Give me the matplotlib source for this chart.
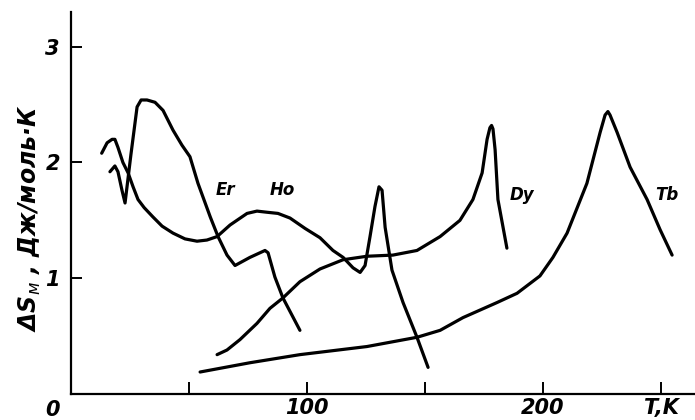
import matplotlib
matplotlib.use("Agg")
import matplotlib.pyplot as plt

# magnetic entropy change vs temperature
er_t = [16.5, 18.6, 19.9, 21.6, 22.9, 25.4, 28.0, 29.7, 32.2, 35.6, 39.0, 43.2, 47.0, 50.4,
        53.8, 59.0, 62.3, 66.1, 69.5, 75.8, 82.2, 83.5, 86.4, 89.8, 97.0]
er_s = [1.92, 1.97, 1.92, 1.76, 1.65, 2.07, 2.48, 2.54, 2.54, 2.52, 2.45, 2.28, 2.15, 2.05,
        1.82, 1.53, 1.36, 1.20, 1.11, 1.18, 1.24, 1.22, 1.01, 0.83, 0.55]

ho_t = [13.0, 15.3, 17.4, 18.6, 19.9, 22.0, 24.2, 26.3, 28.4, 31.0, 34.7, 38.6, 43.2, 48.3,
        53.4, 57.6, 61.9, 67.4, 74.6, 78.8, 83.1, 87.7, 92.8, 99.2, 105.5, 111.0, 115.3,
        119.5, 122.5, 124.6, 126.7, 128.8, 130.5, 131.8, 133.1, 136.0, 140.7, 146.6, 151.3]
ho_s = [2.08, 2.17, 2.20, 2.20, 2.13, 2.00, 1.91, 1.79, 1.68, 1.61, 1.53, 1.45, 1.39, 1.34,
        1.32, 1.33, 1.36, 1.46, 1.56, 1.58, 1.57, 1.56, 1.52, 1.43, 1.35, 1.24, 1.18,
        1.09, 1.05, 1.11, 1.36, 1.62, 1.79, 1.76, 1.44, 1.07, 0.79, 0.49, 0.23]

dy_t = [61.9, 66.1, 71.6, 78.8, 84.3, 89.8, 97.0, 105.5, 115.3, 125.4, 136.4, 146.6, 156.4,
        164.8, 170.3, 174.2, 176.3, 177.5, 178.2, 178.8, 179.7, 180.9, 184.7]
dy_s = [0.34, 0.38, 0.47, 0.61, 0.74, 0.83, 0.97, 1.08, 1.16, 1.19, 1.20, 1.24, 1.36,
        1.50, 1.68, 1.91, 2.20, 2.30, 2.32, 2.29, 2.11, 1.68, 1.26]

tb_t = [54.7, 75.8, 97.0, 125.4, 146.6, 156.4, 166.1, 180.5, 189.0, 198.7, 204.2, 210.2,
        218.6, 224.2, 226.3, 227.5, 228.4, 231.4, 236.9, 244.1, 249.6, 254.7]
tb_s = [0.19, 0.27, 0.34, 0.41, 0.49, 0.55, 0.66, 0.79, 0.87, 1.02, 1.18, 1.39,
        1.82, 2.26, 2.41, 2.44, 2.41, 2.26, 1.96, 1.68, 1.42, 1.20]

labels = ["Er", "Ho", "Dy", "Tb"]
label_pos = [(65.3, 1.76), (89.4, 1.76), (191.0, 1.72), (252.5, 1.72)]

x_ticks = [50, 100, 150, 200, 250]
x_ticklabels = ["", "100", "", "200", "T,K"]
y_ticks = [1, 2, 3]

fig = plt.figure(figsize=(6.95, 4.2), dpi=100)
ax = fig.add_axes([71 / 695, 26 / 420, 624 / 695, 382 / 420])
ax.set_xlim(0, 264.4)
ax.set_ylim(0, 3.30)

font = dict(family="DejaVu Sans", style="italic", weight="bold")

for t, s in [(er_t, er_s), (ho_t, ho_s), (dy_t, dy_s), (tb_t, tb_s)]:
    ax.plot(t, s, color="black", lw=2.3, solid_joinstyle="round", solid_capstyle="round")

for name, (x, y) in zip(labels, label_pos):
    ax.text(x, y, name, ha="center", va="center", fontsize=12, **font)

for side in ["top", "right"]:
    ax.spines[side].set_visible(False)
for side in ["left", "bottom"]:
    ax.spines[side].set_linewidth(1.6)

ax.set_xticks(x_ticks)
ax.set_xticklabels(x_ticklabels, fontsize=15, **font)
ax.set_yticks(y_ticks)
ax.set_yticklabels([str(v) for v in y_ticks], fontsize=15, **font)
ax.tick_params(axis="x", direction="in", length=9, width=1.4, pad=3)
ax.tick_params(axis="y", direction="in", length=8, width=1.4, pad=8)

fig.text(52 / 695, 1 - 410 / 420, "0", ha="center", va="center", fontsize=15, **font)
fig.text(30 / 695, 1 - 218 / 420, "ΔS$_м$ , Дж/моль·К", rotation=90,
         ha="center", va="center", fontsize=17, **font)

fig.savefig("out.png", dpi=100)
